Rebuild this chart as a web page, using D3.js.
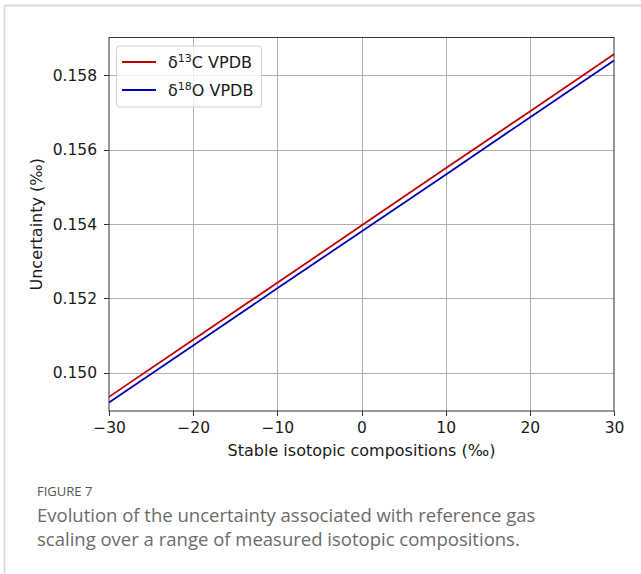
<!DOCTYPE html>
<html><head><meta charset="utf-8">
<style>
body{margin:0;background:#fff;}
#fig{position:absolute;left:0;top:0;}
#fig text{font-family:'DejaVu Sans',sans-serif;fill:#1a1a1a;}
.grid line{stroke:#b0b0b0;stroke-width:1;shape-rendering:crispEdges;}
.grid path{display:none;}
.axis path,.axis line{stroke:#333;shape-rendering:crispEdges;}
.axis text{font-size:15.5px;}
#fig text.cap{font-family:'Open Sans',sans-serif;fill:#6b6b6b;}
</style>
<script src="https://d3js.org/d3.v7.min.js"></script>
</head><body>
<svg id="fig" width="641" height="574"></svg>
<script>
// values at each 10 permil step
var xVals=[-30,-20,-10,0,10,20,30];
var carbon=[0.14935,0.15089,0.15242,0.15396,0.15550,0.15703,0.15857];
var oxygen=[0.14920,0.15073,0.15227,0.15380,0.15533,0.15687,0.15840];
var xTicks=[-30,-20,-10,0,10,20,30];
var yTicks=[0.150,0.152,0.154,0.156,0.158];

var L=109,R=614,T=37.5,B=411;
var svg=d3.select('#fig');
// frame of the figure panel
svg.append('line').attr('x1',4.5).attr('x2',641).attr('y1',5.5).attr('y2',5.5)
   .attr('stroke','#d9d9d9').attr('stroke-width',2);
svg.append('line').attr('x1',4.5).attr('x2',4.5).attr('y1',5).attr('y2',574)
   .attr('stroke','#d9d9d9').attr('stroke-width',1.5);

var x=d3.scaleLinear().domain([-30,30]).range([L,R]);
var y=d3.scaleLinear().domain([0.14897,0.15902]).range([B,T]);

svg.append('g').attr('class','grid').attr('transform','translate(0,'+B+')')
   .call(d3.axisBottom(x).tickValues(xTicks.slice(1,-1)).tickSize(-(B-T)).tickFormat(''));
svg.append('g').attr('class','grid').attr('transform','translate('+L+',0)')
   .call(d3.axisLeft(y).tickValues(yTicks).tickSize(-(R-L)).tickFormat(''));

var series=[{name:'13',ch:'C',vals:carbon,col:'#c00000'},
            {name:'18',ch:'O',vals:oxygen,col:'#0000b4'}];
var line=d3.line().x((d,i)=>x(xVals[i])).y(d=>y(d));
series.forEach(s=>{
  svg.append('path').datum(s.vals).attr('d',line).attr('fill','none')
     .attr('stroke',s.col).attr('stroke-width',1.8);
});

// spines
svg.append('rect').attr('x',L).attr('y',T).attr('width',R-L).attr('height',B-T)
   .attr('fill','none').attr('stroke','#333').attr('stroke-width',1);

var xa=svg.append('g').attr('class','axis').attr('transform','translate(0,'+B+')')
   .call(d3.axisBottom(x).tickValues(xTicks).tickSize(5).tickPadding(6)
   .tickFormat(d=>d<0?'\u2212'+(-d):d));
var ya=svg.append('g').attr('class','axis').attr('transform','translate('+L+',0)')
   .call(d3.axisLeft(y).tickValues(yTicks).tickSize(5).tickPadding(7).tickFormat(d3.format('.3f')));
xa.select('.domain').remove(); ya.select('.domain').remove();

svg.append('text').attr('x',(L+R)/2).attr('y',456).attr('text-anchor','middle')
   .attr('font-size',16).text('Stable isotopic compositions (\u2030)');
svg.append('text').attr('transform','translate(42,'+((T+B)/2)+') rotate(-90)')
   .attr('text-anchor','middle').attr('font-size',16).text('Uncertainty (\u2030)');

// legend
var lg=svg.append('g');
lg.append('rect').attr('x',116.5).attr('y',46).attr('width',145).attr('height',61)
  .attr('rx',3).attr('fill','#fff').attr('fill-opacity',0.8).attr('stroke','#d0d0d0');
series.forEach((s,i)=>{
  var yy=62+i*28;
  lg.append('line').attr('x1',122).attr('x2',156).attr('y1',yy).attr('y2',yy)
    .attr('stroke',s.col).attr('stroke-width',1.8);
  var t=lg.append('text').attr('x',168).attr('y',yy+6).attr('font-size',16);
  t.append('tspan').text('\u03b4');
  t.append('tspan').attr('dy',-6.5).attr('font-size',11).text(s.name);
  t.append('tspan').attr('dy',6.5).text(s.ch+' VPDB');
});

// caption
svg.append('text').attr('class','cap').attr('x',37).attr('y',496)
   .attr('font-size',13).style('fill','#555').text('FIGURE 7');
svg.append('text').attr('class','cap').attr('x',37).attr('y',522)
   .attr('font-size',18.5).text('Evolution of the uncertainty associated with reference gas');
svg.append('text').attr('class','cap').attr('x',37).attr('y',546)
   .attr('font-size',18.5).text('scaling over a range of measured isotopic compositions.');
</script>
</body></html>
